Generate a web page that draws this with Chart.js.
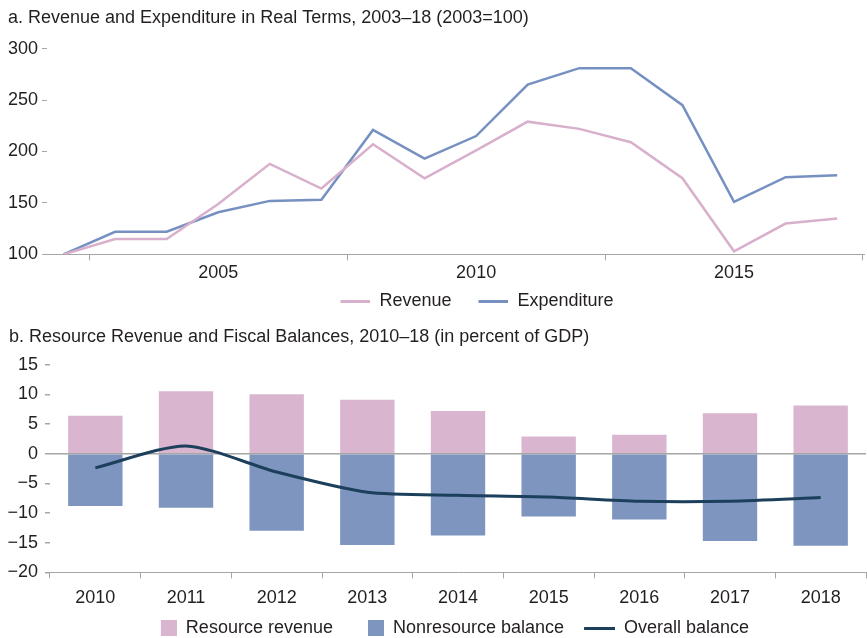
<!DOCTYPE html>
<html>
<head>
<meta charset="utf-8">
<script src="https://cdn.jsdelivr.net/npm/chart.js@4"></script>
<style>
  html, body { margin: 0; background: #fff; overflow: hidden; }
  #top { position: absolute; left: 0; top: 0; width: 867px; height: 320px; }
  #bottom { position: absolute; left: 0; top: 318px; width: 867px; height: 329px; }
</style>
</head>
<body>
<div id="top"><canvas id="c1"></canvas></div>
<div id="bottom"><canvas id="c2"></canvas></div>
<script>
// panel a: index, 2003=100
const years = [2002, 2003, 2004, 2005, 2006, 2007, 2008, 2009, 2010, 2011, 2012, 2013, 2014, 2015, 2016, 2017]
const revenue = [100, 115, 115, 149, 188, 164, 207, 174, 201, 229, 222, 209, 174, 103, 130, 135]
const expenditure = [100, 122, 122, 141, 152, 153, 221, 193, 215, 265, 281, 281, 245, 151, 175, 177]
const xTicks = [2002.5, 2005, 2007.5, 2010, 2012.5, 2015, 2017.5]

// panel b: percent of GDP
const balYears = ['2010', '2011', '2012', '2013', '2014', '2015', '2016', '2017', '2018']
const resourceRevenue = [6.4, 10.5, 10.0, 9.1, 7.2, 2.9, 3.2, 6.8, 8.1]
const nonresourceBalance = [-8.8, -9.1, -13.0, -15.4, -13.8, -10.6, -11.1, -14.7, -15.5]
const overallBalance = [-2.4, 1.3, -3.1, -6.5, -7.0, -7.3, -8.0, -8.0, -7.4]

const pink = '#dab5cf'
const pinkLine = '#d8b0cb'
const blue = '#7e95c0'
const blueLine = '#7690c1'
const navy = '#1c3f5b'
const grey = '#a6a6a6'
const txt = '#231f20'

Chart.defaults.font.family = "'Liberation Sans', Arial, sans-serif"
Chart.defaults.font.size = 18
Chart.defaults.color = txt

const minus = v => v < 0 ? '\u2212' + Math.abs(v) : String(v)

// move title / legend sideways after layout
const nudge = (titleDx, legendDx) => ({
  id: 'nudge',
  afterLayout(chart) {
    chart.titleBlock.left += titleDx
    chart.titleBlock.right += titleDx
    chart.legend.left += legendDx
    chart.legend.right += legendDx
  }
})

// legend marker: blank on the left, mark at the right end
const marker = (w, h, markW, color) => {
  const c = document.createElement('canvas')
  c.width = w
  c.height = h
  const g = c.getContext('2d')
  g.fillStyle = color
  g.fillRect(w - markW, 0, markW, h)
  return c
}
const topMarkers = [marker(50, 3, 30, pinkLine), marker(50, 3, 30, blueLine)]
const botMarkers = [marker(36, 16, 16, pink), marker(36, 16, 16, blue), marker(36, 3, 31, navy)]

const withMarkers = list => chart => Chart.defaults.plugins.legend.labels.generateLabels(chart)
  .map(it => ({...it, pointStyle: list[it.datasetIndex]}))

new Chart(document.getElementById('c1'), {
  type: 'line',
  data: {
    datasets: [
      {
        label: 'Revenue',
        data: years.map((y, i) => ({x: y, y: revenue[i]})),
        borderColor: pinkLine,
        borderWidth: 2.5,
        pointRadius: 0
      },
      {
        label: 'Expenditure',
        data: years.map((y, i) => ({x: y, y: expenditure[i]})),
        borderColor: blueLine,
        borderWidth: 2.5,
        pointRadius: 0
      }
    ]
  },
  options: {
    animation: false,
    responsive: true,
    maintainAspectRatio: false,
    layout: {padding: {left: 8, right: 3, top: 0, bottom: 0}},
    plugins: {
      title: {
        display: true,
        text: 'a. Revenue and Expenditure in Real Terms, 2003\u201318 (2003=100)',
        align: 'start',
        font: {size: 18, weight: 'normal'},
        padding: {top: 7, bottom: 20}
      },
      legend: {
        position: 'bottom',
        labels: {
          usePointStyle: true,
          pointStyleWidth: 50,
          boxHeight: 18,
          padding: 7,
          generateLabels: withMarkers(topMarkers)
        }
      },
      tooltip: {enabled: false}
    },
    scales: {
      x: {
        type: 'linear',
        min: 2001.68,
        max: 2017.52,
        afterBuildTicks: s => { s.ticks = xTicks.map(v => ({value: v})) },
        afterFit: s => { s.height -= 1 },
        ticks: {
          callback: v => v % 5 === 0 ? String(v) : '',
          autoSkip: false,
          maxRotation: 0,
          padding: 2
        },
        grid: {
          drawOnChartArea: false,
          tickLength: 6,
          tickColor: c => (c.tick && c.tick.value % 5 === 0) ? 'rgba(0,0,0,0)' : grey
        },
        border: {color: grey}
      },
      y: {
        min: 100,
        max: 300,
        afterFit: s => { s.width = 39 },
        ticks: {stepSize: 50, padding: 4, autoSkip: false},
        grid: {drawOnChartArea: false, tickLength: 5, tickColor: grey},
        border: {display: false}
      }
    }
  },
  plugins: [nudge(0, 31)]
})

new Chart(document.getElementById('c2'), {
  type: 'bar',
  data: {
    labels: balYears,
    datasets: [
      {
        label: 'Resource revenue',
        data: resourceRevenue,
        backgroundColor: pink,
        barPercentage: 0.6,
        categoryPercentage: 1,
        stack: 'bars',
        order: 2
      },
      {
        label: 'Nonresource balance',
        data: nonresourceBalance,
        backgroundColor: blue,
        barPercentage: 0.6,
        categoryPercentage: 1,
        stack: 'bars',
        order: 2
      },
      {
        type: 'line',
        label: 'Overall balance',
        data: overallBalance,
        borderColor: navy,
        backgroundColor: navy,
        borderWidth: 3,
        pointRadius: 0,
        tension: 0.25,
        stack: 'line',
        order: 1
      }
    ]
  },
  options: {
    animation: false,
    responsive: true,
    maintainAspectRatio: false,
    layout: {padding: {left: 2, right: 1, top: 0, bottom: 0}},
    plugins: {
      title: {
        display: true,
        text: 'b. Resource Revenue and Fiscal Balances, 2010\u201318 (in percent of GDP)',
        align: 'start',
        font: {size: 18, weight: 'normal'},
        padding: {top: 8, bottom: 17}
      },
      legend: {
        position: 'bottom',
        labels: {
          usePointStyle: true,
          pointStyleWidth: 36,
          boxHeight: 16,
          padding: 15,
          sort: (a, b) => a.datasetIndex - b.datasetIndex,
          generateLabels: withMarkers(botMarkers)
        }
      },
      tooltip: {enabled: false}
    },
    scales: {
      x: {
        stacked: true,
        afterFit: s => { s.height -= 14 },
        ticks: {padding: 9, maxRotation: 0, autoSkip: false},
        grid: {drawOnChartArea: false, tickLength: 6, tickColor: grey},
        border: {color: grey}
      },
      y: {
        stacked: true,
        min: -20,
        max: 15,
        afterFit: s => { s.width = 48 },
        ticks: {stepSize: 5, padding: 7, autoSkip: false, callback: v => minus(v)},
        grid: {
          tickLength: 5,
          tickColor: grey,
          color: c => (c.tick && c.tick.value === 0) ? grey : 'rgba(0,0,0,0)',
          lineWidth: 1.5
        },
        border: {display: false}
      }
    }
  },
  plugins: [nudge(7, 11)]
})
</script>
</body>
</html>
